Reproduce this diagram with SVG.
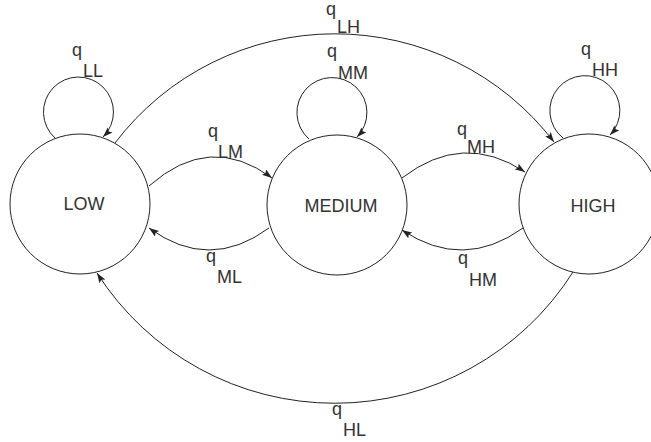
<svg xmlns="http://www.w3.org/2000/svg" width="651" height="442" viewBox="0 0 651 442">
<style>
.node{fill:#fff;stroke:#222;stroke-width:1}
.edge{fill:none;stroke:#222;stroke-width:1;marker-end:url(#ah)}
text{font-family:"Liberation Sans",Arial,sans-serif;font-size:18px;fill:#333}
.c{text-anchor:middle}
</style>
<defs>
<marker id="ah" markerUnits="userSpaceOnUse" markerWidth="12" markerHeight="8" refX="10" refY="3.5" orient="auto">
<path d="M0,0 L10,3.5 L0,7 L2,3.5 Z" fill="#222"/>
</marker>
</defs>
<rect width="651" height="442" fill="#fff"/>
<g id="connectors">
<path class="edge" d="M55,138 A35,35 0 1,1 103,137"/>
<path class="edge" d="M309,139 A35,35 0 1,1 357,137"/>
<path class="edge" d="M563,138 A35,35 0 1,1 610,135"/>
<path class="edge" d="M115,143 A276,276 0 0,1 554,142"/>
<path class="edge" d="M573,272 A282,282 0 0,1 97,273"/>
<path class="edge" d="M149,186 Q210,132 272,178"/>
<path class="edge" d="M269,228 Q209,272 149,228"/>
<path class="edge" d="M402,178 Q463,131 525,172"/>
<path class="edge" d="M523,228 Q463,271 402,230"/>
</g>
<g id="low"><circle class="node" cx="80" cy="204" r="70"/><text class="c" x="84" y="210">LOW</text></g>
<g id="medium"><circle class="node" cx="337" cy="205" r="70"/><text class="c" x="341" y="212">MEDIUM</text></g>
<g id="high"><circle class="node" cx="589" cy="204" r="70"/><text class="c" x="593" y="212">HIGH</text></g>
<g id="labels">
<text x="72" y="56">q</text><text x="83" y="77">LL</text>
<text x="327" y="57">q</text><text x="338" y="79">MM</text>
<text x="581" y="55">q</text><text x="592" y="76">HH</text>
<text x="326" y="15">q</text><text x="337" y="33">LH</text>
<text x="208" y="137">q</text><text x="218" y="158">LM</text>
<text x="206" y="262">q</text><text x="217" y="283">ML</text>
<text x="457" y="135">q</text><text x="467" y="153">MH</text>
<text x="458" y="264">q</text><text x="469" y="286">HM</text>
<text x="332" y="415">q</text><text x="343" y="436">HL</text>
</g>
</svg>
